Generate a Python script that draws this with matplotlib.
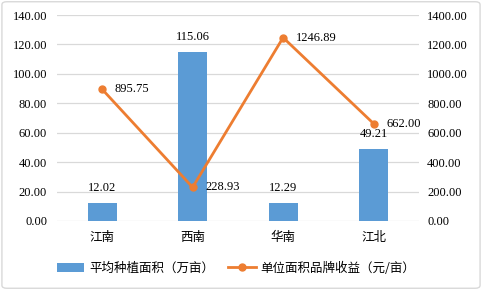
import matplotlib
matplotlib.use("Agg")
import matplotlib.pyplot as plt
from matplotlib.patches import FancyBboxPatch
from matplotlib.lines import Line2D
from matplotlib.patches import Patch

categories = ["江南", "西南", "华南", "江北"]
area = [12.02, 115.06, 12.29, 49.21]
revenue = [895.75, 228.93, 1246.89, 662.00]
left_ticks = [0, 20, 40, 60, 80, 100, 120, 140]
right_ticks = [0, 200, 400, 600, 800, 1000, 1200, 1400]

bar_color = "#5B9BD5"
line_color = "#ED7D31"
grid_color = "#D9D9D9"
serif = "Liberation Serif"
cjk = ["Noto Sans CJK SC", "DejaVu Sans"]

fig = plt.figure(figsize=(4.82, 2.90), dpi=100)
fig.patches.append(FancyBboxPatch((0.004, 0.006), 0.992, 0.988,
                                  boxstyle="round,pad=0,rounding_size=0.01",
                                  transform=fig.transFigure, fill=False,
                                  edgecolor="#D9D9D9", linewidth=1.0))
ax = fig.add_axes([0.118, 0.238, 0.751, 0.710])
ax2 = ax.twinx()

x = list(range(len(categories)))
ax.bar(x, area, width=0.32, color=bar_color, zorder=2)
ax.set_xlim(-0.5, len(categories) - 0.5)
ax.set_ylim(0, 140)
ax.set_yticks(left_ticks)
ax.set_yticklabels([f"{v:.2f}" for v in left_ticks], fontfamily=serif, fontsize=9)
ax.set_xticks(x)
ax.set_xticklabels(categories, fontfamily=cjk, fontsize=9)
ax.tick_params(axis="both", length=0, pad=7, colors="#000000")
ax.tick_params(axis="x", pad=7)
ax.grid(axis="y", color=grid_color, linewidth=0.9, zorder=0)
ax.set_axisbelow(True)
for s in ax.spines.values():
    s.set_visible(False)
for i, v in enumerate(area):
    ax.annotate(f"{v:.2f}", (i, v), xytext=(0, 6.5), textcoords="offset points",
                ha="center", va="bottom", fontfamily=serif, fontsize=9)

ax2.plot(x, revenue, color=line_color, linewidth=2.0, marker="o", markersize=5, zorder=3)
ax2.set_ylim(0, 1400)
ax2.set_yticks(right_ticks)
ax2.set_yticklabels([f"{v:.2f}" for v in right_ticks], fontfamily=serif, fontsize=9)
ax2.tick_params(axis="y", length=0, pad=6)
for s in ax2.spines.values():
    s.set_visible(False)
for i, v in enumerate(revenue):
    ax2.annotate(f"{v:.2f}", (i, v), xytext=(9, 0), textcoords="offset points",
                 ha="left", va="center", fontfamily=serif, fontsize=9)

handles = [Patch(facecolor=bar_color, edgecolor="none"),
           Line2D([0], [0], color=line_color, linewidth=2.0, marker="o", markersize=5)]
labels = ["平均种植面积（万亩）", "单位面积品牌收益（元/亩）"]
fig.legend(handles, labels, loc="center", bbox_to_anchor=(0.49, 0.075), ncol=2,
           frameon=False, prop={"family": cjk, "size": 9}, handlelength=2.2,
           handletextpad=0.4, columnspacing=1.1)

fig.savefig("out.png", dpi=100)
